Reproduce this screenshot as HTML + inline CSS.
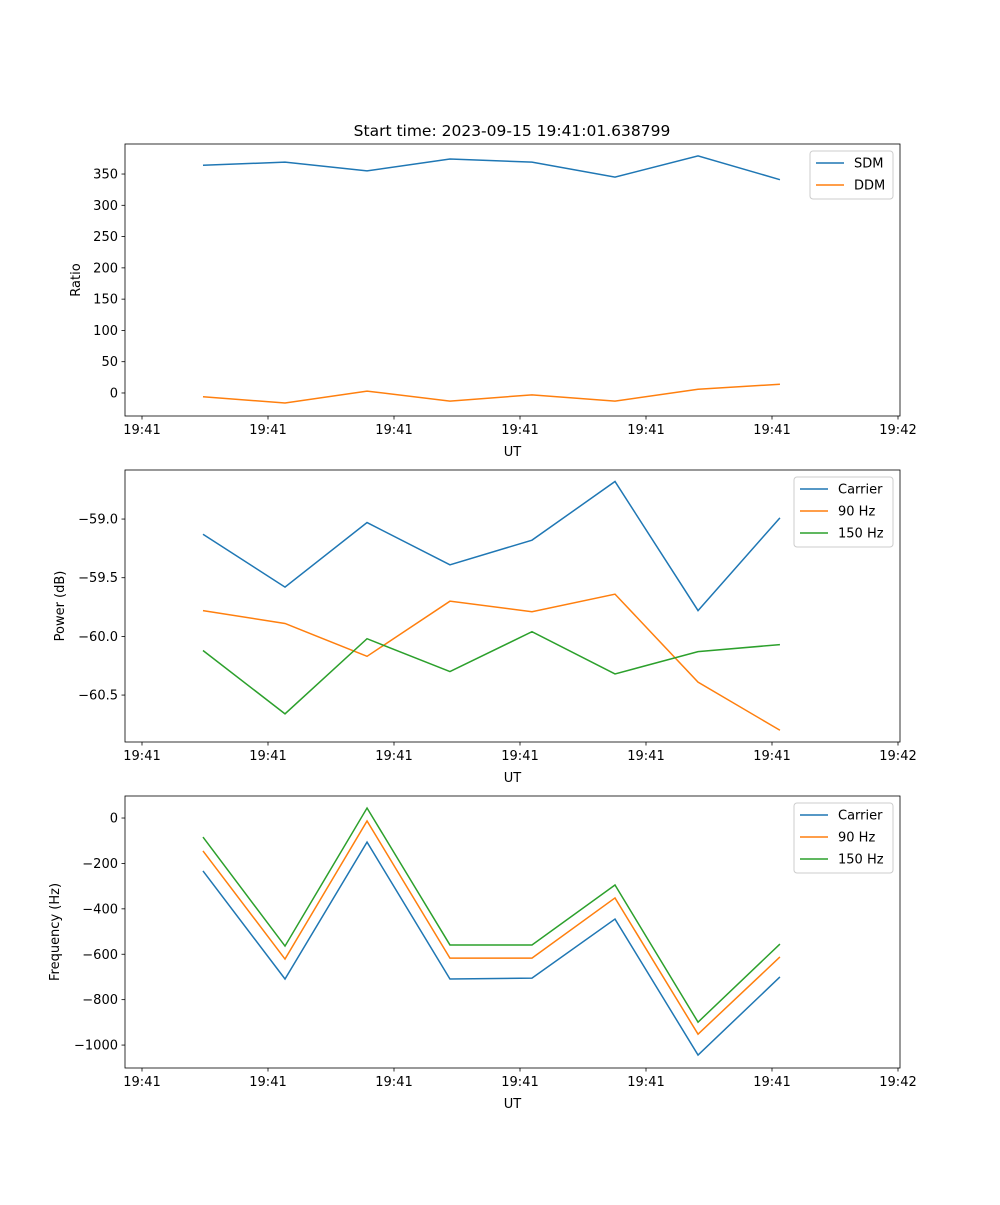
<!DOCTYPE html>
<html><head><meta charset="utf-8"><style>
body{margin:0;background:#fff;}
svg text{font-family:"DejaVu Sans","Liberation Sans",sans-serif;fill:#000;}
</style></head><body>
<svg id="fig" width="1000" height="1200" xmlns="http://www.w3.org/2000/svg"></svg>
<script>
const times = [4.84, 11.35, 17.86, 24.44, 30.95, 37.54, 44.13, 50.63];
const xTicks = [0, 10, 20, 30, 40, 50, 60];
const xTickLabels = ["19:41","19:41","19:41","19:41","19:41","19:41","19:42"];
const sdm = [364, 369, 355, 374, 369, 345, 379, 341];
const ddm = [-6, -16, 3, -13, -3, -13, 6, 14];
const ratioTicks = [0, 50, 100, 150, 200, 250, 300, 350];
const powCarrier = [-59.13, -59.58, -59.03, -59.39, -59.18, -58.68, -59.78, -58.99];
const pow90 = [-59.78, -59.89, -60.17, -59.70, -59.79, -59.64, -60.39, -60.80];
const pow150 = [-60.12, -60.66, -60.02, -60.30, -59.96, -60.32, -60.13, -60.07];
const powTicks = [-59.0, -59.5, -60.0, -60.5];
const powTickLabels = ["\u221259.0","\u221259.5","\u221260.0","\u221260.5"];
const freqCarrier = [-233, -709, -106, -709, -705, -445, -1044, -700];
const freq90 = [-145, -621, -13, -617, -617, -352, -952, -612];
const freq150 = [-84, -564, 44, -559, -559, -295, -899, -555];
const freqTicks = [0, -200, -400, -600, -800, -1000];
const freqTickLabels = ["0","\u2212200","\u2212400","\u2212600","\u2212800","\u22121000"];

const NS="http://www.w3.org/2000/svg";
const svg=document.getElementById('fig');
function mk(tag,attrs,parent){const e=document.createElementNS(NS,tag);for(const k in attrs)e.setAttribute(k,attrs[k]);(parent||svg).appendChild(e);return e;}
const C=["#1f77b4","#ff7f0e","#2ca02c"];
const X0=125,X1=900;
function xs(t){return 142+(t-0)*12.6;}

function panel(name,top,bot,ymin,ymax,yticks,ylabels,ylabel,series,labels,legend){
  const g=mk('g',{});
  
  
  const ys=v=>bot-(v-ymin)/(ymax-ymin)*(bot-top);
  series.forEach((s,i)=>{
    const p=mk('polyline',{points:times.map((t,j)=>xs(t)+','+ys(s[j])).join(' '),fill:'none',stroke:C[i],'stroke-width':1.5},g);
    
    
  });
  const fr=mk('rect',{x:X0,y:top,width:X1-X0,height:bot-top,fill:'none',stroke:'#000','stroke-width':0.8},g);
  
  
  xTicks.forEach((t,i)=>{
    const x=xs(t);
    mk('line',{x1:x,x2:x,y1:bot,y2:bot+3.5,stroke:'#000','stroke-width':0.8},g);
    const tx=mk('text',{x:x,y:bot+18,'text-anchor':'middle','font-size':13},g);
    tx.textContent=xTickLabels[i];
    
    
  });
  const xl=mk('text',{x:(X0+X1)/2,y:bot+40,'text-anchor':'middle','font-size':13},g);
  xl.textContent='UT';
  
  
  yticks.forEach((v,i)=>{
    const y=ys(v);
    mk('line',{x1:X0-3.5,x2:X0,y1:y,y2:y,stroke:'#000','stroke-width':0.8},g);
    const tx=mk('text',{x:X0-7,y:y+4.5,'text-anchor':'end','font-size':13},g);
    tx.textContent=ylabels[i];
    
    
  });
  const yl=mk('text',{x:0,y:0,'text-anchor':'middle','font-size':13,transform:`translate(${legend.yl},${(top+bot)/2}) rotate(-90)`},g);
  yl.textContent=ylabel;
  
  
  const lg=mk('g',{},g);
  
  
  mk('rect',{x:legend.x,y:top+7,width:legend.w,height:labels.length*22+4,rx:3,fill:'#fff',stroke:'#ccc','stroke-width':1},lg);
  labels.forEach((l,i)=>{
    const y=top+19+i*22;
    const ln=mk('line',{x1:legend.x+6,x2:legend.x+34,y1:y,y2:y,stroke:C[i],'stroke-width':1.5},lg);
    
    
    const tx=mk('text',{x:legend.x+44,y:y+4.5,'font-size':13},lg);
    tx.textContent=l;
    
    
  });
}
const title=mk('text',{x:512,y:136,'text-anchor':'middle','font-size':15.5});
title.textContent='Start time: 2023-09-15 19:41:01.638799';


panel('ratio',144,416,-36.8,398,ratioTicks,ratioTicks.map(String),'Ratio',[sdm,ddm],['SDM','DDM'],{x:810,w:83,yl:80});
panel('power',470,742,-60.90,-58.582,powTicks,powTickLabels,'Power (dB)',[powCarrier,pow90,pow150],['Carrier','90 Hz','150 Hz'],{x:794,w:99,yl:64});
panel('frequency',796,1068,-1101,97,freqTicks,freqTickLabels,'Frequency (Hz)',[freqCarrier,freq90,freq150],['Carrier','90 Hz','150 Hz'],{x:794,w:99,yl:59});
</script>
</body></html>
